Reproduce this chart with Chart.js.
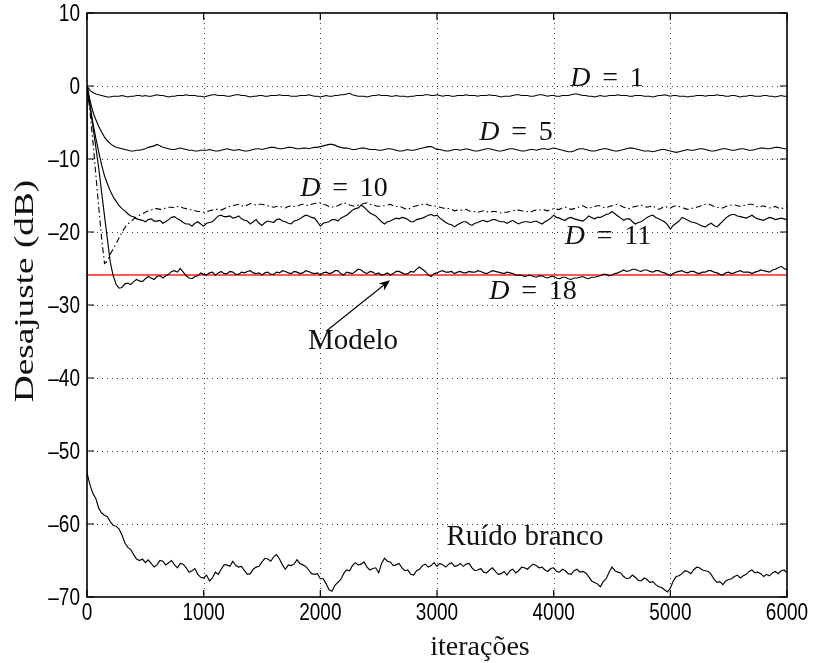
<!DOCTYPE html>
<html>
<head>
<meta charset="utf-8">
<script src="https://cdn.jsdelivr.net/npm/chart.js@4.4.1/dist/chart.umd.min.js"></script>
<style>
html,body{margin:0;padding:0;background:#fff;}
#wrap{width:815px;height:663px;}
</style>
</head>
<body>
<div id="wrap"><canvas id="c" width="815" height="663"></canvas></div>
<script>
// ---- data ----
const iterations = [0,50,100,150,200,250,300,350,400,450,
500,550,600,650,700,750,800,850,900,950,
1000,1050,1100,1150,1200,1250,1300,1350,1400,1450,
1500,1550,1600,1650,1700,1750,1800,1850,1900,1950,
2000,2050,2100,2150,2200,2250,2300,2350,2400,2450,
2500,2550,2600,2650,2700,2750,2800,2850,2900,2950,
3000,3050,3100,3150,3200,3250,3300,3350,3400,3450,
3500,3550,3600,3650,3700,3750,3800,3850,3900,3950,
4000,4050,4100,4150,4200,4250,4300,4350,4400,4450,
4500,4550,4600,4650,4700,4750,4800,4850,4900,4950,
5000,5050,5100,5150,5200,5250,5300,5350,5400,5450,
5500,5550,5600,5650,5700,5750,5800,5850,5900,5950,6000];

const midIterations = [25,75,125,175,225,275,325,375,425,475,
525,575,625,675,725,775,825,875,925,975,
1025,1075,1125,1175,1225,1275,1325,1375,1425,1475,
1525,1575,1625,1675,1725,1775,1825,1875,1925,1975,
2025,2075,2125,2175,2225,2275,2325,2375,2425,2475,
2525,2575,2625,2675,2725,2775,2825,2875,2925,2975,
3025,3075,3125,3175,3225,3275,3325,3375,3425,3475,
3525,3575,3625,3675,3725,3775,3825,3875,3925,3975,
4025,4075,4125,4175,4225,4275,4325,4375,4425,4475,
4525,4575,4625,4675,4725,4775,4825,4875,4925,4975,
5025,5075,5125,5175,5225,5275,5325,5375,5425,5475,
5525,5575,5625,5675,5725,5775,5825,5875,5925,5975];

const seriesD1 = [0,-0.9,-1.2,-1.4,-1.5,-1.4,-1.3,-1.5,-1.4,-1.3,
-1.3,-1.4,-1.2,-1.3,-1.5,-1.4,-1.3,-1.2,-1.3,-1.4,
-1.5,-1.3,-1.2,-1.3,-1.4,-1.3,-1.2,-1.3,-1.5,-1.4,
-1.3,-1.4,-1.3,-1.2,-1.3,-1.4,-1.4,-1.3,-1.2,-1.4,
-1.5,-1.3,-1.4,-1.3,-1.2,-1.0,-1.3,-1.4,-1.5,-1.3,
-1.2,-1.3,-1.4,-1.3,-1.4,-1.5,-1.4,-1.3,-1.2,-1.3,
-1.2,-1.4,-1.3,-1.4,-1.3,-1.2,-1.3,-1.4,-1.3,-1.2,
-1.3,-1.5,-1.4,-1.3,-1.2,-1.3,-1.4,-1.3,-1.2,-1.4,
-1.3,-1.4,-1.3,-1.2,-1.1,-1.3,-1.4,-1.5,-1.3,-1.4,
-1.3,-1.2,-1.3,-1.4,-1.3,-1.3,-1.4,-1.5,-1.3,-1.2,
-1.4,-1.3,-1.4,-1.5,-1.4,-1.3,-1.4,-1.3,-1.2,-1.3,
-1.4,-1.3,-1.5,-1.4,-1.3,-1.4,-1.3,-1.4,-1.5,-1.3,-1.4];
const midD1 = [-0.6,-1.1,-1.3,-1.5,-1.4,-1.4,-1.4,-1.4,-1.3,-1.4,
-1.4,-1.3,-1.3,-1.4,-1.4,-1.3,-1.3,-1.3,-1.3,-1.4,
-1.4,-1.2,-1.3,-1.3,-1.4,-1.2,-1.3,-1.4,-1.4,-1.3,
-1.4,-1.3,-1.3,-1.3,-1.3,-1.4,-1.3,-1.3,-1.3,-1.4,
-1.4,-1.4,-1.3,-1.2,-1.1,-1.2,-1.4,-1.4,-1.4,-1.3,
-1.3,-1.3,-1.4,-1.4,-1.4,-1.4,-1.3,-1.3,-1.2,-1.3,
-1.3,-1.3,-1.4,-1.3,-1.3,-1.3,-1.3,-1.3,-1.3,-1.3,
-1.4,-1.4,-1.4,-1.2,-1.3,-1.3,-1.4,-1.2,-1.3,-1.3,
-1.4,-1.3,-1.3,-1.1,-1.2,-1.3,-1.4,-1.4,-1.4,-1.3,
-1.3,-1.3,-1.3,-1.4,-1.3,-1.4,-1.4,-1.4,-1.3,-1.3,
-1.3,-1.4,-1.4,-1.4,-1.3,-1.3,-1.3,-1.3,-1.3,-1.4,
-1.3,-1.4,-1.4,-1.3,-1.4,-1.4,-1.3,-1.4,-1.4,-1.4];

const seriesD5 = [0,-3.5,-5.5,-7.0,-7.9,-8.4,-8.6,-8.8,-8.9,-8.8,
-8.6,-8.3,-8.0,-8.4,-8.6,-8.7,-8.5,-8.7,-8.8,-8.9,
-8.8,-8.7,-8.9,-8.8,-8.6,-8.8,-8.7,-8.9,-8.8,-8.6,
-8.7,-8.5,-8.4,-8.6,-8.5,-8.4,-8.6,-8.5,-8.6,-8.4,
-8.3,-8.1,-8.0,-8.3,-8.5,-8.6,-8.7,-8.5,-8.6,-8.7,
-8.8,-8.7,-8.6,-8.8,-8.9,-8.7,-8.8,-8.6,-8.4,-8.3,
-8.7,-8.8,-8.9,-8.7,-8.8,-8.6,-8.8,-8.9,-8.7,-8.6,
-8.8,-8.9,-8.7,-8.6,-8.8,-8.9,-8.7,-8.8,-8.6,-8.7,
-8.5,-8.7,-8.9,-9.0,-8.7,-8.6,-8.8,-8.9,-8.7,-8.6,
-8.8,-8.9,-8.7,-8.5,-8.6,-8.8,-8.9,-9.0,-8.8,-8.7,
-8.9,-9.1,-8.9,-8.7,-8.8,-8.6,-8.7,-8.9,-8.8,-8.6,
-8.7,-8.8,-8.6,-8.7,-8.8,-8.6,-8.5,-8.6,-8.4,-8.5,-8.6];
const midD5 = [-1.9,-4.6,-6.3,-7.5,-8.2,-8.5,-8.7,-8.9,-8.8,-8.7,
-8.4,-8.2,-8.2,-8.5,-8.7,-8.6,-8.6,-8.8,-8.9,-8.8,
-8.8,-8.8,-8.9,-8.7,-8.7,-8.8,-8.8,-8.9,-8.7,-8.6,
-8.6,-8.4,-8.5,-8.6,-8.4,-8.5,-8.6,-8.5,-8.5,-8.4,
-8.2,-8.0,-8.1,-8.4,-8.5,-8.7,-8.6,-8.5,-8.7,-8.7,
-8.8,-8.6,-8.7,-8.9,-8.8,-8.8,-8.7,-8.5,-8.3,-8.5,
-8.7,-8.9,-8.8,-8.7,-8.7,-8.7,-8.9,-8.8,-8.6,-8.7,
-8.9,-8.8,-8.6,-8.7,-8.9,-8.8,-8.7,-8.7,-8.6,-8.6,
-8.6,-8.8,-9.0,-8.9,-8.6,-8.7,-8.9,-8.8,-8.6,-8.7,
-8.9,-8.8,-8.6,-8.5,-8.7,-8.9,-8.9,-8.9,-8.7,-8.8,
-9.0,-9.0,-8.8,-8.8,-8.7,-8.6,-8.8,-8.9,-8.7,-8.6,
-8.8,-8.7,-8.6,-8.8,-8.7,-8.5,-8.6,-8.5,-8.4,-8.6];

const seriesD10 = [0,-7.5,-16.5,-24.3,-23.0,-21.6,-20.0,-18.9,-18.2,-17.7,
-17.3,-17.0,-16.8,-16.9,-16.6,-16.7,-16.5,-16.8,-17.0,-17.2,
-17.3,-17.1,-16.9,-17.0,-16.6,-16.4,-16.2,-16.5,-16.1,-16.3,
-16.2,-16.4,-16.6,-16.5,-16.7,-16.4,-16.5,-16.2,-16.4,-16.1,
-16.0,-16.3,-16.6,-16.4,-16.0,-16.3,-16.5,-16.2,-16.0,-16.3,
-16.5,-16.4,-16.2,-16.5,-16.6,-16.9,-16.5,-16.3,-16.1,-16.4,
-16.5,-16.7,-16.8,-17.1,-17.0,-16.9,-17.2,-17.3,-17.1,-17.3,
-17.2,-17.4,-17.3,-17.1,-17.0,-17.2,-17.3,-17.0,-16.9,-17.1,
-16.8,-16.9,-16.6,-16.9,-16.7,-16.4,-16.8,-16.5,-16.4,-16.7,
-16.4,-16.2,-16.6,-16.8,-16.5,-16.3,-16.6,-16.4,-16.9,-16.5,
-16.7,-16.4,-16.6,-16.9,-16.7,-16.5,-16.2,-16.3,-16.6,-16.7,
-16.4,-16.3,-16.5,-16.3,-16.2,-16.6,-16.4,-16.7,-16.5,-16.8,-16.6];
const midD10 = [-3.5,-12.0,-20.8,-24.0,-22.3,-20.8,-19.4,-18.6,-17.9,-17.5,
-17.1,-16.8,-16.9,-16.7,-16.6,-16.5,-16.7,-16.9,-17.1,-17.2,
-17.2,-17.0,-16.9,-16.8,-16.5,-16.3,-16.4,-16.3,-16.2,-16.2,
-16.3,-16.5,-16.5,-16.6,-16.5,-16.5,-16.3,-16.3,-16.2,-16.0,
-16.2,-16.5,-16.5,-16.2,-16.1,-16.4,-16.3,-16.1,-16.2,-16.4,
-16.4,-16.3,-16.4,-16.5,-16.8,-16.7,-16.4,-16.2,-16.3,-16.4,
-16.6,-16.8,-16.9,-17.0,-17.0,-17.1,-17.2,-17.2,-17.2,-17.2,
-17.3,-17.3,-17.2,-17.0,-17.1,-17.2,-17.1,-17.0,-17.0,-16.9,
-16.9,-16.7,-16.8,-16.8,-16.5,-16.6,-16.6,-16.4,-16.6,-16.5,
-16.3,-16.4,-16.7,-16.6,-16.4,-16.5,-16.5,-16.7,-16.7,-16.6,
-16.5,-16.5,-16.8,-16.8,-16.6,-16.3,-16.2,-16.5,-16.7,-16.5,
-16.3,-16.4,-16.4,-16.2,-16.4,-16.5,-16.6,-16.6,-16.7,-16.7];

const seriesD11 = [0,-5.0,-9.0,-12.3,-14.4,-15.8,-16.8,-17.5,-17.9,-18.3,
-18.6,-18.2,-18.5,-18.8,-18.3,-17.9,-18.4,-18.9,-19.2,-18.6,
-19.2,-18.7,-18.2,-17.7,-17.9,-18.1,-17.8,-18.4,-18.9,-18.3,
-19.1,-18.5,-18.7,-18.2,-18.6,-18.9,-18.4,-17.9,-17.8,-18.1,
-19.2,-18.7,-18.3,-18.5,-17.9,-17.4,-16.8,-16.3,-17.0,-17.6,
-18.2,-18.9,-18.5,-18.1,-18.0,-18.3,-18.6,-18.2,-17.9,-17.6,
-17.7,-18.4,-18.9,-19.3,-18.8,-18.6,-19.1,-18.7,-18.4,-18.5,
-18.3,-18.6,-18.8,-18.4,-18.9,-18.6,-18.7,-18.5,-18.9,-18.4,
-17.7,-18.1,-18.4,-18.0,-18.3,-18.5,-17.8,-18.2,-18.0,-17.6,
-17.2,-17.8,-18.4,-18.2,-18.9,-18.6,-18.0,-17.7,-18.2,-18.6,
-19.6,-18.8,-18.0,-18.4,-18.7,-19.0,-19.3,-18.8,-19.3,-18.5,
-17.8,-17.6,-17.9,-18.1,-17.7,-18.2,-18.4,-18.0,-18.3,-18.1,-18.3];
const midD11 = [-2.6,-7.1,-10.8,-13.4,-15.2,-16.4,-17.1,-17.8,-18.2,-18.4,
-18.3,-18.5,-18.4,-18.6,-18.0,-18.2,-18.7,-18.9,-18.8,-18.9,
-18.8,-18.6,-17.8,-17.9,-17.8,-18.0,-18.2,-18.5,-18.6,-18.8,
-18.7,-18.6,-18.3,-18.5,-18.8,-18.5,-18.2,-17.7,-18.0,-18.6,
-18.8,-18.6,-18.3,-18.1,-17.7,-17.0,-16.7,-16.6,-17.4,-17.8,
-18.6,-18.6,-18.3,-18.2,-18.1,-18.6,-18.3,-18.1,-17.7,-17.8,
-18.1,-18.7,-19.0,-19.0,-18.6,-18.9,-18.8,-18.5,-18.6,-18.3,
-18.5,-18.6,-18.6,-18.7,-18.7,-18.6,-18.6,-18.7,-18.6,-18.1,
-18.0,-18.3,-18.1,-18.2,-18.4,-18.2,-18.0,-18.0,-17.8,-17.5,
-17.5,-18.1,-18.2,-18.6,-18.7,-18.3,-17.8,-18.0,-18.4,-19.0,
-19.1,-18.5,-18.2,-18.6,-18.8,-19.2,-19.0,-19.1,-18.9,-18.1,
-17.6,-17.8,-18.0,-17.9,-18.0,-18.3,-18.2,-18.1,-18.2,-18.2];

const seriesD18 = [0,-5.5,-11.2,-17.8,-24.2,-27.2,-27.6,-27.0,-26.8,-26.7,
-26.4,-26.3,-26.1,-26.3,-25.8,-25.3,-25.0,-26.0,-26.4,-26.0,
-25.8,-25.6,-25.9,-25.4,-25.7,-25.5,-25.8,-25.6,-25.3,-25.7,
-25.9,-25.5,-25.8,-25.6,-25.4,-25.7,-25.5,-25.6,-25.4,-25.7,
-25.9,-25.5,-25.6,-25.3,-25.9,-25.6,-25.4,-25.2,-25.7,-25.5,
-25.6,-25.8,-25.9,-25.4,-25.6,-25.7,-25.5,-24.8,-25.4,-26.1,
-25.6,-25.3,-25.5,-25.7,-25.4,-25.6,-25.5,-25.3,-25.6,-25.5,
-25.4,-25.6,-25.5,-25.7,-25.9,-26.1,-25.9,-26.2,-26.0,-26.3,
-26.1,-26.4,-26.2,-26.5,-26.3,-26.1,-26.4,-26.2,-26.0,-25.8,
-25.9,-25.6,-25.2,-25.3,-25.1,-25.4,-25.2,-25.5,-25.3,-25.6,
-26.0,-25.5,-25.3,-25.6,-25.4,-25.7,-25.5,-25.3,-25.6,-25.9,
-25.5,-25.6,-25.3,-25.5,-25.7,-25.4,-25.3,-25.5,-25.1,-24.7,-25.2];
const midD18 = [-2.7,-8.3,-14.5,-21.0,-26.0,-27.7,-27.1,-27.2,-26.5,-26.8,
-26.1,-26.5,-26.0,-26.0,-25.4,-25.5,-25.5,-26.3,-26.1,-25.6,
-25.9,-25.5,-25.6,-25.7,-25.4,-25.8,-25.5,-25.4,-25.6,-25.6,
-25.6,-25.8,-25.5,-25.3,-25.6,-25.4,-25.7,-25.3,-25.6,-25.6,
-25.6,-25.7,-25.3,-25.7,-25.5,-25.7,-25.1,-25.5,-25.4,-25.8,
-25.9,-25.6,-25.7,-25.4,-25.8,-25.4,-25.1,-25.1,-25.9,-25.7,
-25.4,-25.5,-25.4,-25.5,-25.6,-25.4,-25.5,-25.4,-25.7,-25.3,
-25.5,-25.7,-25.6,-25.9,-25.9,-26.0,-26.1,-26.0,-26.2,-26.1,
-26.3,-26.2,-26.4,-26.3,-26.2,-26.3,-26.2,-26.1,-25.8,-26.0,
-25.7,-25.4,-25.4,-25.1,-25.3,-25.2,-25.4,-25.3,-25.5,-25.8,
-25.7,-25.4,-25.5,-25.4,-25.6,-25.5,-25.3,-25.5,-25.8,-25.6,
-25.7,-25.4,-25.5,-25.5,-25.5,-25.2,-25.4,-25.2,-24.9,-25.0];

// white noise: curve starts at 0 dB at iteration 0, then jumps to about -53 dB
const whiteNoiseStart = 0;
const seriesWhiteNoise = [-53,-55.8,-57.8,-58.8,-59.7,-60.3,-61.5,-63.2,-64.2,-65.0,
-65.3,-65.4,-65.6,-65.1,-65.3,-65.6,-65.4,-66.0,-66.4,-66.9,
-67.4,-67.8,-66.6,-66.2,-65.6,-65.1,-65.9,-66.4,-66.8,-65.9,
-65.2,-64.8,-64.5,-64.8,-66.2,-65.7,-64.9,-65.6,-66.3,-66.9,
-67.5,-68.2,-69.2,-68.0,-66.8,-66.4,-65.3,-65.5,-65.9,-66.1,
-66.7,-64.7,-65.2,-65.6,-66.0,-66.3,-67.0,-66.2,-65.5,-65.7,
-65.8,-65.6,-65.5,-65.8,-65.4,-65.5,-66.0,-66.3,-66.6,-66.3,
-66.5,-66.8,-67.0,-66.2,-66.4,-66.0,-65.8,-65.7,-65.9,-66.5,
-66.0,-66.6,-66.4,-66.9,-66.2,-66.5,-67.2,-68.0,-68.6,-67.5,
-65.9,-66.6,-67.2,-67.4,-67.3,-67.8,-67.6,-67.9,-68.6,-69.0,
-68.8,-67.2,-66.8,-66.5,-66.3,-66.0,-66.4,-66.9,-68.0,-68.3,
-67.6,-67.2,-67.4,-66.9,-66.3,-66.6,-67.2,-67.1,-66.5,-66.4,-66.7];
const midWhiteNoise = [-54.6,-56.5,-58.5,-59.0,-60.2,-60.7,-62.6,-63.5,-64.8,-64.8,
-64.9,-65.9,-65.0,-65.6,-65.0,-66.0,-65.5,-66.6,-66.1,-67.3,
-67.0,-67.4,-66.9,-65.6,-65.8,-65.7,-65.8,-66.9,-66.2,-65.8,
-64.7,-65.1,-64.2,-65.6,-65.6,-65.5,-65.4,-65.8,-66.8,-66.8,
-67.5,-69.0,-68.4,-67.6,-66.3,-65.7,-65.6,-65.2,-66.3,-66.0,
-65.4,-65.1,-65.7,-65.4,-66.4,-66.9,-66.4,-65.7,-65.9,-65.3,
-65.4,-65.9,-65.3,-65.7,-65.8,-65.4,-66.4,-66.1,-66.7,-66.0,
-66.9,-66.5,-66.4,-66.7,-65.9,-66.2,-65.5,-66.0,-66.3,-66.1,
-66.5,-66.2,-66.8,-66.4,-66.6,-66.7,-67.8,-68.2,-67.9,-66.6,
-66.4,-66.7,-67.5,-67.0,-67.7,-67.4,-68.0,-68.3,-68.7,-69.3,
-67.8,-67.1,-66.4,-66.8,-65.9,-66.3,-66.5,-67.6,-67.9,-67.8,
-67.5,-67.0,-67.1,-66.5,-66.7,-66.8,-66.9,-66.7,-66.8,-66.3];

const modelLevel = -25.9;        // "Modelo" red horizontal line (dB)
const modelRange = [0, 6000];

const xTicks = [0,1000,2000,3000,4000,5000,6000];
const yTicks = [10,0,-10,-20,-30,-40,-50,-60,-70];

const curveLabels = [
  {d:'1',  x:4457, y:0.0},
  {d:'5',  x:3677, y:-7.45},
  {d:'10', x:2203, y:-15.0},
  {d:'11', x:4466, y:-21.6},
  {d:'18', x:3823, y:-29.2}
];
const modelText = {text:'Modelo', x:2280, y:-36.05};
const modelArrow = {fromX:2049, fromY:-33.6, toX:2597, toY:-26.6};
const noiseText = {text:'Ruído branco', x:3754, y:-62.85};
const xTitle = 'iterações';
const yTitle = 'Desajuste (dB)';

// ---- build datasets ----
const weave = (vals, mids) => {
  const out = [];
  iterations.forEach((it, i) => {
    out.push({x: it, y: vals[i]});
    if (i < midIterations.length) out.push({x: midIterations[i], y: mids[i]});
  });
  return out;
};
const blackLine = (label, data, extra) => Object.assign({
  label, data, borderColor:'#000', borderWidth:1.15,
  pointRadius:0, fill:false, tension:0
}, extra || {});

const datasets = [
  blackLine('D = 1', weave(seriesD1, midD1)),
  blackLine('D = 5', weave(seriesD5, midD5)),
  blackLine('D = 10', weave(seriesD10, midD10), {borderDash:[6,3,1.5,3], borderWidth:1.1}),
  blackLine('D = 11', weave(seriesD11, midD11)),
  blackLine('D = 18', weave(seriesD18, midD18)),
  blackLine('Ruído branco', [{x:0,y:whiteNoiseStart}].concat(weave(seriesWhiteNoise, midWhiteNoise))),
  {label:'Modelo', data:[{x:modelRange[0],y:modelLevel},{x:modelRange[1],y:modelLevel}],
   borderColor:'#ff5a5a', borderWidth:2, pointRadius:0, fill:false}
];

const SERIF = '"Liberation Serif", "Times New Roman", serif';
const SANS = '"Liberation Sans", Arial, sans-serif';

const decor = {
  id:'decor',
  beforeDatasetsDraw(chart){
    const {ctx, chartArea:a, scales:{x, y}} = chart;
    ctx.save();
    ctx.strokeStyle = 'rgba(0,0,0,0.75)';
    ctx.lineWidth = 1;
    ctx.setLineDash([1,4]);
    xTicks.forEach((v, i) => {
      if (i === 0 || i === xTicks.length - 1) return;
      const px = Math.round(x.getPixelForValue(v)) + 0.5;
      ctx.beginPath(); ctx.moveTo(px, a.top); ctx.lineTo(px, a.bottom); ctx.stroke();
    });
    yTicks.forEach((v, i) => {
      if (i === 0 || i === yTicks.length - 1) return;
      const py = Math.round(y.getPixelForValue(v)) + 0.5;
      ctx.beginPath(); ctx.moveTo(a.left, py); ctx.lineTo(a.right, py); ctx.stroke();
    });
    ctx.restore();
  },
  afterDatasetsDraw(chart){
    const {ctx, chartArea:a, scales:{x, y}} = chart;
    ctx.save();
    ctx.setLineDash([]);
    ctx.strokeStyle = '#000';
    ctx.lineWidth = 1.6;
    ctx.strokeRect(a.left, a.top, a.right - a.left, a.bottom - a.top);
    ctx.lineWidth = 1.2;
    const tl = 7;
    xTicks.forEach(v => {
      const px = x.getPixelForValue(v);
      ctx.beginPath();
      ctx.moveTo(px, a.bottom); ctx.lineTo(px, a.bottom - tl);
      ctx.moveTo(px, a.top); ctx.lineTo(px, a.top + tl);
      ctx.stroke();
    });
    yTicks.forEach(v => {
      const py = y.getPixelForValue(v);
      ctx.beginPath();
      ctx.moveTo(a.left, py); ctx.lineTo(a.left + tl, py);
      ctx.moveTo(a.right, py); ctx.lineTo(a.right - tl, py);
      ctx.stroke();
    });

    // tick labels (slightly tall digits, as in the reference)
    ctx.fillStyle = '#000';
    ctx.font = '19px ' + SANS;
    const sy = 1.22;
    ctx.textBaseline = 'middle';
    ctx.textAlign = 'right';
    yTicks.forEach(v => {
      const py = y.getPixelForValue(v);
      ctx.save();
      ctx.translate(a.left - 7, py);
      ctx.scale(1, sy);
      ctx.fillText(v < 0 ? '\u2013' + Math.abs(v) : String(v), 0, 1);
      ctx.restore();
    });
    ctx.textAlign = 'center';
    xTicks.forEach(v => {
      const px = x.getPixelForValue(v);
      ctx.save();
      ctx.translate(px, a.bottom + 15);
      ctx.scale(1, sy);
      ctx.fillText(String(v), 0, 1);
      ctx.restore();
    });

    ctx.fillStyle = '#111';
    ctx.textBaseline = 'alphabetic';
    const fs = 28;
    curveLabels.forEach(l => {
      const cx = x.getPixelForValue(l.x), by = y.getPixelForValue(l.y);
      ctx.font = 'italic ' + fs + 'px ' + SERIF;
      const wD = ctx.measureText('D').width;
      ctx.font = fs + 'px ' + SERIF;
      const wEq = ctx.measureText('=').width;
      const wN = ctx.measureText(l.d).width;
      const gap = fs * 0.42;
      const total = wD + gap + wEq + gap + wN;
      let sx = cx - total / 2;
      ctx.textAlign = 'left';
      ctx.font = 'italic ' + fs + 'px ' + SERIF;
      ctx.fillText('D', sx, by);
      sx += wD + gap;
      ctx.font = fs + 'px ' + SERIF;
      ctx.fillText('=', sx, by);
      sx += wEq + gap;
      ctx.fillText(l.d, sx, by);
    });
    ctx.font = '29px ' + SERIF;
    ctx.textAlign = 'center';
    ctx.fillText(modelText.text, x.getPixelForValue(modelText.x), y.getPixelForValue(modelText.y));
    ctx.fillText(noiseText.text, x.getPixelForValue(noiseText.x), y.getPixelForValue(noiseText.y));

    const x0 = x.getPixelForValue(modelArrow.fromX), y0 = y.getPixelForValue(modelArrow.fromY);
    const x1 = x.getPixelForValue(modelArrow.toX), y1 = y.getPixelForValue(modelArrow.toY);
    const ang = Math.atan2(y1 - y0, x1 - x0);
    const hl = 11, hw = 4.5;
    ctx.strokeStyle = '#000';
    ctx.lineWidth = 1.1;
    ctx.beginPath();
    ctx.moveTo(x0, y0);
    ctx.lineTo(x1 - Math.cos(ang) * hl * 0.7, y1 - Math.sin(ang) * hl * 0.7);
    ctx.stroke();
    ctx.beginPath();
    ctx.moveTo(x1, y1);
    ctx.lineTo(x1 - Math.cos(ang) * hl - Math.sin(ang) * hw, y1 - Math.sin(ang) * hl + Math.cos(ang) * hw);
    ctx.lineTo(x1 - Math.cos(ang) * hl * 0.7, y1 - Math.sin(ang) * hl * 0.7);
    ctx.lineTo(x1 - Math.cos(ang) * hl + Math.sin(ang) * hw, y1 - Math.sin(ang) * hl - Math.cos(ang) * hw);
    ctx.closePath();
    ctx.fillStyle = '#000';
    ctx.fill();

    // axis titles
    ctx.fillStyle = '#111';
    ctx.font = '28px ' + SERIF;
    ctx.textAlign = 'center';
    ctx.fillText(xTitle, 480, 655);
    ctx.save();
    ctx.translate(33, 291);
    ctx.rotate(-Math.PI / 2);
    ctx.scale(1.33, 1);
    ctx.fillText(yTitle, 0, 0);
    ctx.restore();
    ctx.restore();
  }
};

new Chart(document.getElementById('c'), {
  type:'line',
  data:{datasets},
  plugins:[decor],
  options:{
    responsive:false,
    animation:false,
    events:[],
    layout:{padding:{left:0, top:13, right:28, bottom:0}},
    plugins:{legend:{display:false}, tooltip:{enabled:false}},
    scales:{
      x:{
        type:'linear', min:0, max:6000,
        afterFit(s){ s.height = 66; },
        afterBuildTicks(s){ s.ticks = xTicks.map(v => ({value:v})); },
        grid:{display:false, drawTicks:false},
        border:{display:false},
        ticks:{display:false}
      },
      y:{
        type:'linear', min:-70, max:10,
        afterFit(s){ s.width = 87; },
        afterBuildTicks(s){ s.ticks = yTicks.map(v => ({value:v})); },
        grid:{display:false, drawTicks:false},
        border:{display:false},
        ticks:{display:false}
      }
    }
  }
});
</script>
</body>
</html>
